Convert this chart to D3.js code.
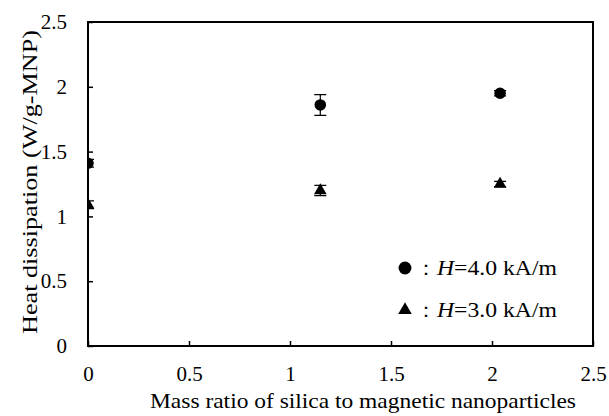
<!DOCTYPE html>
<html>
<head>
<meta charset="utf-8">
<script src="https://cdn.jsdelivr.net/npm/d3@7"></script>
<style>
  body { margin: 0; background: #fff; }
  svg, svg text { font-family: "Liberation Serif", "Times New Roman", serif; }
</style>
</head>
<body>
<div id="vis"></div>
<script>
const massRatio = [0, 1.15, 2.04];
const heat40 = [1.41, 1.86, 1.95];
const err40 = [0.03, 0.08, 0.02];
const heat30 = [1.09, 1.20, 1.25];
const err30 = [0.03, 0.04, 0.02];
const xTicks = [0, 0.5, 1, 1.5, 2, 2.5];
const yTicks = [0, 0.5, 1, 1.5, 2, 2.5];
const legendLabels = ['=4.0 kA/m', '=3.0 kA/m'];

const width = 609;
const height = 416;
const margin = { top: 22, right: 16, bottom: 70, left: 88 };
const serif = '"Liberation Serif", "Times New Roman", serif';

const svg = d3.select('#vis').append('svg')
  .attr('width', width)
  .attr('height', height);

const x = d3.scaleLinear().domain([0, 2.5]).range([margin.left, width - margin.right]);
const y = d3.scaleLinear().domain([0, 2.5]).range([height - margin.bottom, margin.top]);

svg.append('defs').append('clipPath').attr('id', 'plotclip')
  .append('rect')
  .attr('x', x(0)).attr('y', y(2.5))
  .attr('width', x(2.5) - x(0)).attr('height', y(0) - y(2.5));

// axes, ticks pointing inward
const xAxis = svg.append('g')
  .attr('transform', `translate(0,${y(0)})`)
  .call(d3.axisBottom(x).tickValues(xTicks).tickSizeInner(-5).tickSizeOuter(0).tickPadding(20).tickFormat(d3.format('')));
const yAxis = svg.append('g')
  .attr('transform', `translate(${x(0)},0)`)
  .call(d3.axisLeft(y).tickValues(yTicks).tickSizeInner(-5).tickSizeOuter(0).tickPadding(21).tickFormat(d3.format('')));

[xAxis, yAxis].forEach(function (g) {
  g.attr('font-family', serif).attr('font-size', 21);
  g.select('.domain').remove();
  g.selectAll('.tick line').attr('stroke', '#000').attr('stroke-width', 1.5);
  g.selectAll('.tick text').attr('fill', '#000');
});

// frame
svg.append('rect')
  .attr('x', x(0)).attr('y', y(2.5))
  .attr('width', x(2.5) - x(0)).attr('height', y(0) - y(2.5))
  .attr('fill', 'none')
  .attr('stroke', '#000')
  .attr('stroke-width', 2);

// axis titles (the original face is wider than Times, so stretch to its width)
svg.append('text')
  .attr('x', 363 - 213)
  .attr('y', 408)
  .attr('font-family', serif)
  .attr('font-size', 22)
  .attr('textLength', 426)
  .attr('lengthAdjust', 'spacingAndGlyphs')
  .text('Mass ratio of silica to magnetic nanoparticles');

svg.append('text')
  .attr('transform', `translate(37,${182 + 152}) rotate(-90)`)
  .attr('font-family', serif)
  .attr('font-size', 21)
  .attr('textLength', 304)
  .attr('lengthAdjust', 'spacingAndGlyphs')
  .text('Heat dissipation (W/g-MNP)');

const series = [
  { name: 'h40', values: heat40, errors: err40, shape: d3.symbolCircle, size: 105 },
  { name: 'h30', values: heat30, errors: err30, shape: d3.symbolTriangle, size: 70 }
];

const plot = svg.append('g').attr('clip-path', 'url(#plotclip)');

series.forEach(function (s) {
  const pts = massRatio.map((m, i) => ({ x: m, y: s.values[i], e: s.errors[i] }));
  const g = plot.append('g').attr('class', s.name);

  g.selectAll('.err')
    .data(pts)
    .enter().append('path')
    .attr('class', 'err')
    .attr('fill', 'none')
    .attr('stroke', '#000')
    .attr('stroke-width', 1.2)
    .attr('d', function (d) {
      const cx = x(d.x), top = y(d.y + d.e), bot = y(d.y - d.e);
      return `M${cx - 6},${top}H${cx + 6}M${cx},${top}V${bot}M${cx - 6},${bot}H${cx + 6}`;
    });

  g.selectAll('.mark')
    .data(pts)
    .enter().append('path')
    .attr('class', 'mark')
    .attr('transform', (d) => `translate(${x(d.x)},${y(d.y)})`)
    .attr('d', d3.symbol().type(s.shape).size(s.size))
    .attr('fill', '#000');
});

// legend
const legend = svg.append('g');
const legendY = [268, 310];
const legendSize = [130, 80];
series.forEach(function (s, i) {
  legend.append('path')
    .attr('transform', `translate(405,${legendY[i]})`)
    .attr('d', d3.symbol().type(s.shape).size(legendSize[i]))
    .attr('fill', '#000');
  legend.append('text')
    .attr('x', 426)
    .attr('y', legendY[i] + 7)
    .attr('text-anchor', 'middle')
    .attr('font-family', '"Noto Sans CJK JP", sans-serif')
    .attr('font-size', 20)
    .text('：');
  const t = legend.append('text')
    .attr('x', 437)
    .attr('y', legendY[i] + 7)
    .attr('font-family', serif)
    .attr('font-size', 21)
    .attr('textLength', 120)
    .attr('lengthAdjust', 'spacingAndGlyphs');
  t.append('tspan')
    .attr('font-style', 'italic')
    .text('H');
  t.append('tspan')
    .text(legendLabels[i]);
});
</script>
</body>
</html>
